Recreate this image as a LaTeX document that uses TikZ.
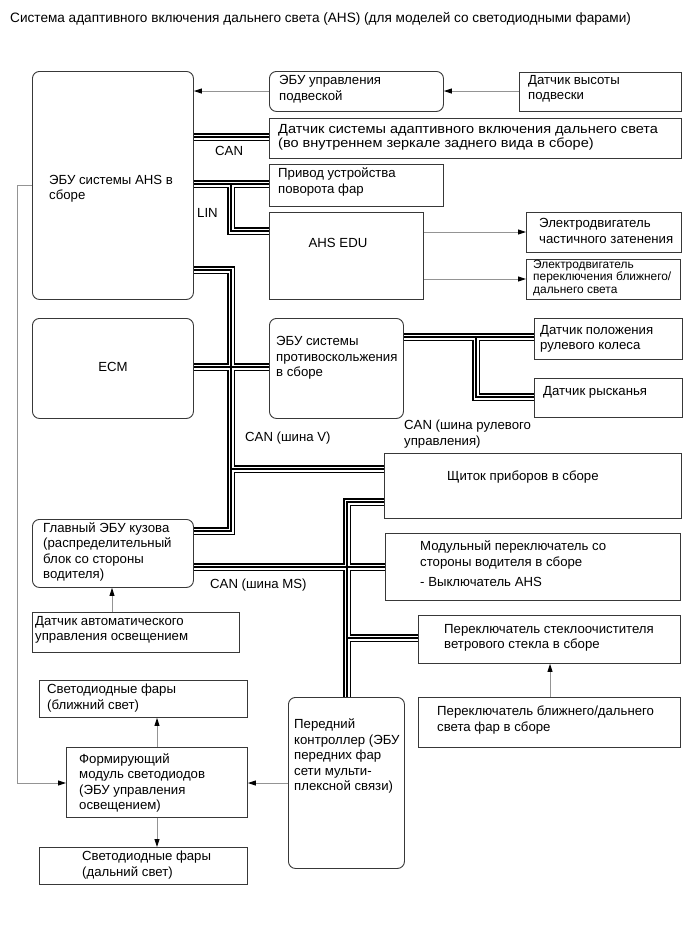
\documentclass[tikz,border=0pt]{standalone}
\usepackage{fontspec}
\setmainfont{Liberation Sans}
\newfontfamily\widefont[FakeStretch=1.1]{Liberation Sans}
\usetikzlibrary{arrows.meta}
\pgfdeclarelayer{bg}
\pgfsetlayers{bg,main}
\tikzset{
  box/.style={draw=black!78, line width=0.9pt, inner sep=0pt, anchor=north west},
  rbox/.style={box, rounded corners=7pt},
  txt/.style={font=\fontsize{13.2}{15.5}\selectfont, align=left, inner sep=0pt, anchor=west},
  smalltxt/.style={txt, font=\fontsize{11.9}{12.8}\selectfont},
  widetxt/.style={txt, font=\widefont\fontsize{13.2}{14}\selectfont},
  titletxt/.style={txt, font=\fontsize{13.6}{15.5}\selectfont},
  sig/.style={draw=black!42, line width=0.9pt, -{Triangle[color=black,length=8pt,width=5pt]}},
  busA/.style={line width=8.4pt, draw=black},
  busAs/.style={line width=8.4pt, draw=black, shift={(-1.2,-1.2)}},
  busB/.style={line width=5pt, draw=white},
  busC/.style={line width=1.1pt, draw=black},
}
\newcommand\mkbox[6]{\node[#6, minimum width=#4-#2, minimum height=#5-#3] (#1) at (#2,#3) {};}
\newcommand\buslines[1]{%
  \draw[#1] (ahs.east |- yCAN) -- (mir.west |- yCAN);
  \draw[#1] (ahs.east |- yLIN) -- (hlv.west |- yLIN);
  \draw[#1] (xLIN |- yLIN) -- (xLIN |- yEDU) -- (edu.west |- yEDU);
  \draw[#1] (ahs.east |- yVtop) -- (xV |- yVtop) -- (xV |- yBody) -- (body.east |- yBody);
  \draw[#1] (ecm.east |- yECM) -- (abs.west |- yECM);
  \draw[#1] (xV |- yCluV) -- (clu.west |- yCluV);
  \draw[#1] (abs.east |- ySt) -- (swa.west |- ySt);
  \draw[#1] (xSt |- ySt) -- (xSt |- yYaw) -- (yaw.west |- yYaw);
  \draw[#1] (body.east |- yMS) -- (mod.west |- yMS);
  \draw[#1] (clu.west |- yCluMS) -- (xMS |- yCluMS) -- (fc.north -| xMS);
  \draw[#1] (xMS |- yWip) -- (wip.west |- yWip);
}
\begin{document}
\begin{tikzpicture}[x=1pt,y=-1pt]
\useasboundingbox (0,0) rectangle (689,951);

% boxes
\mkbox{ahs}{32}{71}{193}{299}{rbox}
\mkbox{susp}{269}{71}{443}{111}{rbox}
\mkbox{hgt}{519}{72}{681}{111}{box}
\mkbox{mir}{269}{118}{681}{158}{box}
\mkbox{hlv}{269}{164}{443}{206}{box}
\mkbox{edu}{269}{212}{423}{299}{box}
\mkbox{mA}{526}{212}{681}{252}{box}
\mkbox{mB}{526}{259}{680}{299}{box}
\mkbox{ecm}{32}{318}{193}{418}{rbox}
\mkbox{abs}{269}{318}{403}{418}{rbox}
\mkbox{swa}{534}{318}{682}{359}{box}
\mkbox{yaw}{534}{378}{682}{417}{box}
\mkbox{clu}{384}{453}{681}{518}{box}
\mkbox{body}{32}{519}{193}{587}{rbox}
\mkbox{mod}{385}{533}{680}{600}{box}
\mkbox{als}{32}{612}{239}{652}{box}
\mkbox{wip}{418}{615}{680}{663}{box}
\mkbox{low}{39}{680}{247}{717}{box}
\mkbox{hls}{418}{697}{680}{747}{box}
\mkbox{fc}{288}{697}{404}{868}{rbox}
\mkbox{led}{66}{747}{247}{817}{box}
\mkbox{high}{39}{847}{247}{884}{box}

% route coordinates
\coordinate (yCAN) at (0,137);
\coordinate (yLIN) at (0,184);
\coordinate (xLIN) at (231,0);
\coordinate (yEDU) at (0,231);
\coordinate (yVtop) at (0,270);
\coordinate (xV) at (231,0);
\coordinate (yBody) at (0,531);
\coordinate (yECM) at (0,367);
\coordinate (yCluV) at (0,469);
\coordinate (ySt) at (0,337);
\coordinate (xSt) at (476,0);
\coordinate (yYaw) at (0,397);
\coordinate (yMS) at (0,567);
\coordinate (yCluMS) at (0,502);
\coordinate (xMS) at (347,0);
\coordinate (yWip) at (0,638);
\coordinate (ySusp) at (0,91);
\coordinate (yMA) at (0,232);
\coordinate (yMB) at (0,279);
\coordinate (xAls) at (112,0);
\coordinate (xHls) at (550,0);
\coordinate (yLed) at (0,783);
\coordinate (xLed) at (157,0);
\coordinate (yFb) at (0,185);
\coordinate (xFb) at (17,0);

\begin{pgfonlayer}{bg}
  \fill[white] (0,0) rectangle (689,951);
  \buslines{busAs}
  \buslines{busA}
  \buslines{busB}
  \buslines{busC}
\end{pgfonlayer}

% signal arrows
\draw[sig] (hgt.west |- ySusp) -- (susp.east |- ySusp);
\draw[sig] (susp.west |- ySusp) -- (ahs.east |- ySusp);
\draw[sig] (edu.east |- yMA) -- (mA.west |- yMA);
\draw[sig] (edu.east |- yMB) -- (mB.west |- yMB);
\draw[sig] (als.north -| xAls) -- (body.south -| xAls);
\draw[sig] (hls.north -| xHls) -- (wip.south -| xHls);
\draw[sig] (fc.west |- yLed) -- (led.east |- yLed);
\draw[sig] (led.north -| xLed) -- (low.south -| xLed);
\draw[sig] (led.south -| xLed) -- (high.north -| xLed);
\draw[sig] (ahs.west |- yFb) -- (xFb |- yFb) -- (xFb |- yLed) -- (led.west |- yLed);

% texts
\node[titletxt] (title) at (10,19) {Система адаптивного включения дальнего света (AHS) (для моделей со светодиодными фарами)};
\node[txt] (tahs) at (49,189) {ЭБУ системы AHS в\\сборе};
\node[txt] (tsusp) at (279,89) {ЭБУ управления\\подвеской};
\node[txt] (thgt) at (528,89) {Датчик высоты\\подвески};
\node[widetxt] (tmir) at (278,137) {Датчик системы адаптивного включения дальнего света\\(во внутреннем зеркале заднего вида в сборе)};
\node[txt] (thlv) at (278,182) {Привод устройства\\поворота фар};
\node[txt, anchor=center] (tedu) at (338,243) {AHS EDU};
\node[txt] (tmA) at (539,231) {Электродвигатель\\частичного затенения};
\node[smalltxt] (tmB) at (533,278) {Электродвигатель\\переключения ближнего/\\дальнего света};
\node[txt, anchor=center] (tecm) at (113,367) {ECM};
\node[txt] (tabs) at (276,358) {ЭБУ системы\\противоскольжения\\в сборе};
\node[txt] (tswa) at (540,339) {Датчик положения\\рулевого колеса};
\node[txt] (tyaw) at (543,392) {Датчик рысканья};
\node[txt] (tclu) at (447,477) {Щиток приборов в сборе};
\node[txt] (tbody) at (43,552) {Главный ЭБУ кузова\\(распределительный\\блок со стороны\\водителя)};
\node[txt] (tals) at (35,630) {Датчик автоматического\\управления освещением};
\node[txt] (tmod) at (420,564) {Модульный переключатель со\\стороны водителя в сборе\\[5pt]- Выключатель AHS};
\node[txt] (twip) at (444,638) {Переключатель стеклоочистителя\\ветрового стекла в сборе};
\node[txt] (thls) at (437,720) {Переключатель ближнего/дальнего\\света фар в сборе};
\node[txt] (tfc) at (294,756) {Передний\\контроллер (ЭБУ\\передних фар\\сети мульти-\\плексной связи)};
\node[txt] (tlow) at (47,698) {Светодиодные фары\\(ближний свет)};
\node[txt] (tled) at (79,783) {Формирующий\\модуль светодиодов\\(ЭБУ управления\\освещением)};
\node[txt] (thigh) at (82,865) {Светодиодные фары\\(дальний свет)};
% bus labels
\node[txt] (lcan) at (215,151) {CAN};
\node[txt] (llin) at (197,213) {LIN};
\node[txt] (lcanv) at (245,438) {CAN (шина V)};
\node[txt] (lcanst) at (404,434) {CAN (шина рулевого\\управления)};
\node[txt] (lcanms) at (210,585) {CAN (шина MS)};
\end{tikzpicture}
\end{document}
